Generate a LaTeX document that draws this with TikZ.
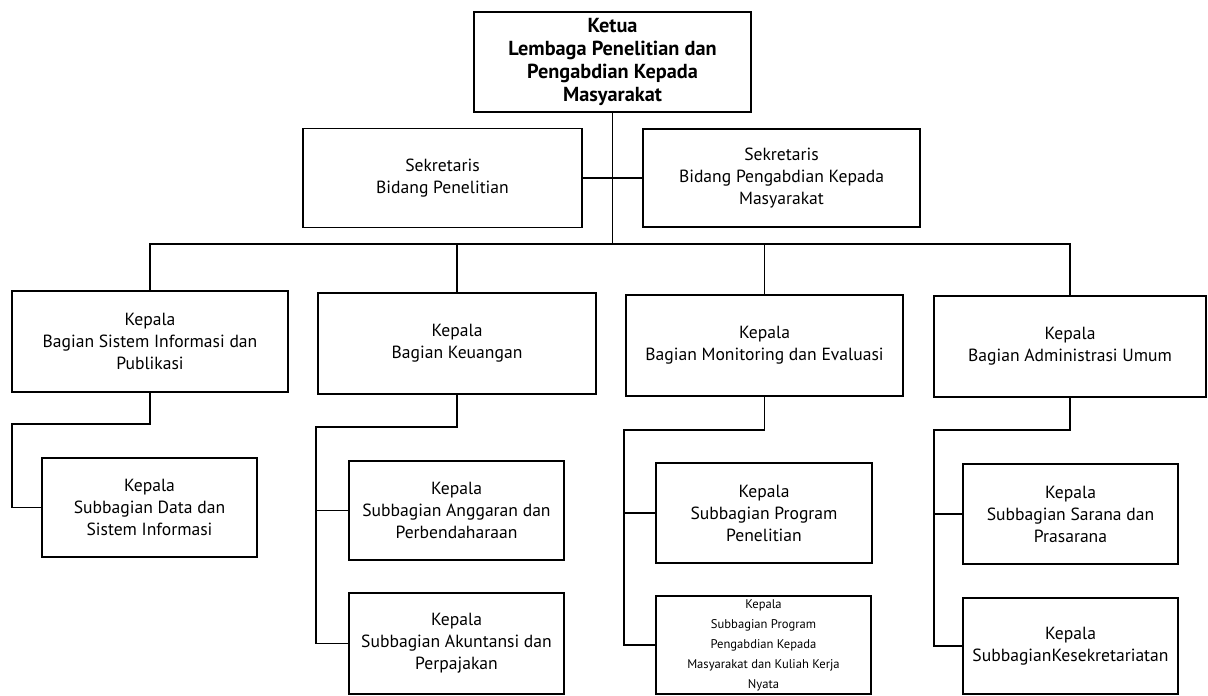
\documentclass[tikz,border=0pt]{standalone}
\usepackage{fontspec}
\setmainfont{PT Sans}
\begin{document}
\begin{tikzpicture}[x=1pt,y=-1pt,
  box/.style={draw, line width=1.2pt, align=center, inner sep=0pt,
    font=\fontsize{17.6}{22}\selectfont},
  headbox/.style={box, font=\fontsize{20.3}{23}\selectfont\bfseries},
  smallbox/.style={box, font=\fontsize{12.6}{20}\selectfont},
  link/.style={line width=1.1pt}]
\useasboundingbox (0,0) rectangle (1208,696);

% head of the institute
\node[headbox, minimum width=277pt, minimum height=100pt] (ketua) at (612.5,62)
  {Ketua\\Lembaga Penelitian dan\\Pengabdian Kepada\\Masyarakat};

% secretaries
\node[box, minimum width=279pt, minimum height=99pt] (sekA) at (442.5,178)
  {Sekretaris\\Bidang Penelitian};
\node[box, minimum width=277pt, minimum height=98pt] (sekB) at (781.5,178)
  {Sekretaris\\Bidang Pengabdian Kepada\\Masyarakat};

% divisions
\node[box, minimum width=276pt, minimum height=101pt] (bagA) at (150,341.5)
  {Kepala\\Bagian Sistem Informasi dan\\Publikasi};
\node[box, minimum width=278pt, minimum height=101pt] (bagB) at (457,343.5)
  {Kepala\\Bagian Keuangan};
\node[box, minimum width=277pt, minimum height=101pt] (bagC) at (764.5,345.5)
  {Kepala\\Bagian Monitoring dan Evaluasi};
\node[box, minimum width=272pt, minimum height=101pt] (bagD) at (1070,346.5)
  {Kepala\\Bagian Administrasi Umum};

% subdivisions
\node[box, minimum width=215pt, minimum height=99pt] (subA) at (149.5,507.5)
  {Kepala\\Subbagian Data dan\\Sistem Informasi};
\node[box, minimum width=215pt, minimum height=99pt] (subB1) at (456.5,510.5)
  {Kepala\\Subbagian Anggaran dan\\Perbendaharaan};
\node[box, minimum width=215pt, minimum height=101pt] (subB2) at (456.5,643.5)
  {Kepala\\Subbagian Akuntansi dan\\Perpajakan};
\node[box, minimum width=216pt, minimum height=100pt] (subC1) at (764,513)
  {Kepala\\Subbagian Program\\Penelitian};
\node[smallbox, minimum width=215pt, minimum height=98pt] (subC2) at (763.5,645)
  {Kepala\\Subbagian Program\\Pengabdian Kepada\\Masyarakat dan Kuliah Kerja\\Nyata};
\node[box, minimum width=215pt, minimum height=100pt] (subD1) at (1070.5,514)
  {Kepala\\Subbagian Sarana dan\\Prasarana};
\node[box, minimum width=215pt, minimum height=96pt] (subD2) at (1070.5,646)
  {Kepala\\SubbagianKesekretariatan};

% connector junctions
\coordinate (bus) at (612.5,244);
\coordinate (elA) at (12,424);
\coordinate (elB) at (316,427);
\coordinate (elC) at (624,430);
\coordinate (elD) at (934,430);

% upper connectors
\draw[link] (ketua.south) -- (bus);
\draw[link] (sekA.east) -- (sekB.west);
\draw[link] (bagA.north) -- (bagA.north |- bus) -- (bagD.north |- bus) -- (bagD.north);
\draw[link] (bagB.north |- bus) -- (bagB.north);
\draw[link] (bagC.north |- bus) -- (bagC.north);

% lower connectors
\draw[link] (bagA.south) |- (elA) |- (subA.west);
\draw[link] (bagB.south) |- (elB) |- (subB2.west);
\draw[link] (elB |- subB1.west) -- (subB1.west);
\draw[link] (bagC.south) |- (elC) |- (subC2.west);
\draw[link] (elC |- subC1.west) -- (subC1.west);
\draw[link] (bagD.south) |- (elD) |- (subD2.west);
\draw[link] (elD |- subD1.west) -- (subD1.west);
\end{tikzpicture}
\end{document}
